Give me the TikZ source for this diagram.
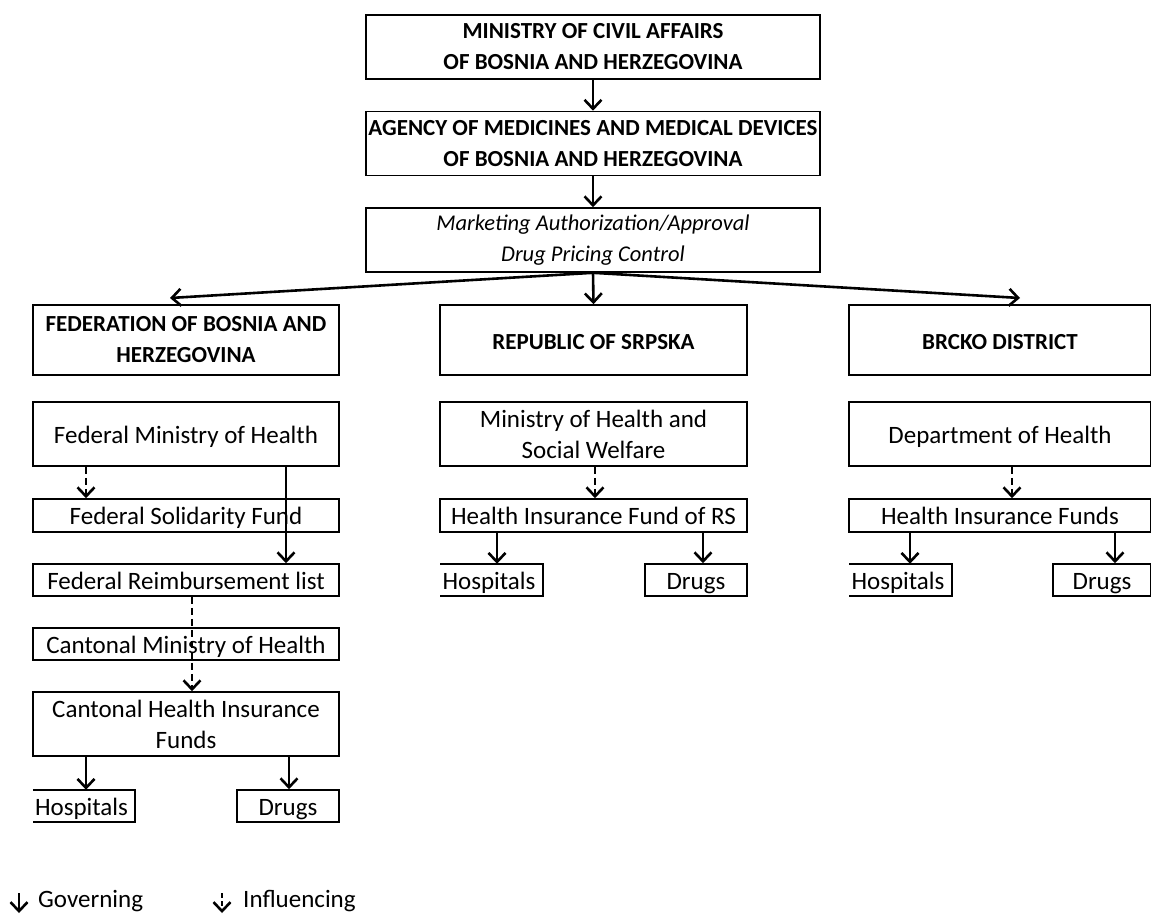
\documentclass[tikz,border=0pt]{standalone}
\usepackage{fontspec}
\setmainfont{Carlito}
\usetikzlibrary{arrows.meta}
\begin{document}
\begin{tikzpicture}[x=1pt,y=-1pt,
  font=\fontsize{25}{31}\selectfont,
  box/.style={draw, line width=1.6pt, inner sep=0pt, align=center},
  one/.style={text height=19pt, text depth=1pt},
  nobox/.style={inner sep=0pt, align=center},
  hbox/.style={inner ysep=0pt, inner xsep=2pt, align=left, text width=98pt, one},
  gov/.style={line width=2.6pt, -{Straight Barb[length=9pt,width=17pt,line width=2.6pt]}},
  inf/.style={gov, dash pattern=on 7pt off 4pt},
  hd/.style={font=\fontsize{23}{31}\selectfont\bfseries}]
\useasboundingbox (0,0) rectangle (1151,914);
% top tier
\node[box, hd, minimum width=454pt, minimum height=64pt] (mca) at (593,47) {MINISTRY OF CIVIL AFFAIRS\\OF BOSNIA AND HERZEGOVINA};
\node[box, hd, minimum width=454pt, minimum height=64pt] (ag) at (593,143.5) {AGENCY OF MEDICINES AND MEDICAL DEVICES\\OF BOSNIA AND HERZEGOVINA};
\node[box, font=\fontsize{22.5}{31}\selectfont\itshape, minimum width=454pt, minimum height=64pt] (ma) at (593,240) {Marketing Authorization/Approval\\Drug Pricing Control};
% second tier
\node[box, hd, minimum width=306pt, minimum height=70pt] (fed) at (186,340) {FEDERATION OF BOSNIA AND\\HERZEGOVINA};
\node[box, hd, one, minimum width=307pt, minimum height=70pt] (rs) at (593.5,340) {REPUBLIC OF SRPSKA};
\node[box, hd, one, minimum width=302pt, minimum height=70pt] (bd) at (1000,340) {BRCKO DISTRICT};
% federation column
\node[box, one, minimum width=306pt, minimum height=64pt] (fmh) at (186,434) {Federal Ministry of Health};
\node[box, one, minimum width=306pt, minimum height=33pt] (fsf) at (186,515.5) {Federal Solidarity Fund};
\node[box, one, minimum width=306pt, minimum height=32pt] (frl) at (186,580) {Federal Reimbursement list};
\node[box, one, minimum width=306pt, minimum height=32pt] (cmh) at (186,644) {Cantonal Ministry of Health};
\node[box, minimum width=306pt, minimum height=64pt] (chif) at (186,724) {Cantonal Health Insurance\\Funds};
\node[hbox, minimum height=32pt] (fh) at (84,806) {Hospitals};
\draw[line width=1.6pt] (fh.north west) -- (fh.north east) -- (fh.south east) -- (fh.south west);
\node[box, one, minimum width=102pt, minimum height=32pt] (fd) at (288,806) {Drugs};
% RS column
\node[box, minimum width=307pt, minimum height=64pt] (mhsw) at (593.5,434) {Ministry of Health and\\Social Welfare};
\node[box, one, minimum width=307pt, minimum height=33pt] (hifrs) at (593.5,515.5) {Health Insurance Fund of RS};
\node[hbox, minimum height=32pt] (rh) at (491.5,580) {Hospitals};
\draw[line width=1.6pt] (rh.north west) -- (rh.north east) -- (rh.south east) -- (rh.south west);
\node[box, one, minimum width=102pt, minimum height=32pt] (rd) at (696,580) {Drugs};
% Brcko column
\node[box, one, minimum width=302pt, minimum height=64pt] (doh) at (1000,434) {Department of Health};
\node[box, one, minimum width=302pt, minimum height=33pt] (hif) at (1000,515.5) {Health Insurance Funds};
\node[hbox, minimum height=32pt] (bh) at (900.5,580) {Hospitals};
\draw[line width=1.6pt] (bh.north west) -- (bh.north east) -- (bh.south east) -- (bh.south west);
\node[box, one, minimum width=98pt, minimum height=32pt] (bdr) at (1102,580) {Drugs};
% arrows top
\draw[gov] (mca.south) -- (ag.north);
\draw[gov] (ag.south) -- (ma.north);
\coordinate (fedend) at (170,298);
\coordinate (bdend) at (1020,298);
\draw[gov] (ma.south) -- (fedend);
\draw[gov] (ma.south) -- (rs.north);
\draw[gov] (ma.south) -- (bdend);
% federation arrows
\draw[inf] (fmh.south -| 86,0) -- (fsf.north -| 86,0);
\draw[gov] (fmh.south -| 286,0) -- (frl.north -| 286,0);
\draw[inf] (frl.south -| 192,0) -- (chif.north -| 192,0);
\draw[gov] (chif.south -| 86,0) -- (fh.north -| 86,0);
\draw[gov] (chif.south -| 289,0) -- (fd.north -| 289,0);
% RS arrows
\draw[inf] (mhsw.south -| 595,0) -- (hifrs.north -| 595,0);
\draw[gov] (hifrs.south -| 497,0) -- (rh.north -| 497,0);
\draw[gov] (hifrs.south -| 703,0) -- (rd.north -| 703,0);
% Brcko arrows
\draw[inf] (doh.south -| 1012,0) -- (hif.north -| 1012,0);
\draw[gov] (hif.south -| 910,0) -- (bh.north -| 910,0);
\draw[gov] (hif.south -| 1115,0) -- (bdr.north -| 1115,0);
% legend
\coordinate (g1) at (19,893);
\coordinate (g2) at (19,913);
\draw[gov] (g1) -- (g2);
\node[nobox, anchor=base west] (lg) at (38,907) {Governing};
\coordinate (i1) at (222,893);
\coordinate (i2) at (222,913);
\draw[inf, dash pattern=on 5pt off 3pt] (i1) -- (i2);
\node[nobox, anchor=base west] (li) at (243,907) {Influencing};
\end{tikzpicture}
\end{document}
